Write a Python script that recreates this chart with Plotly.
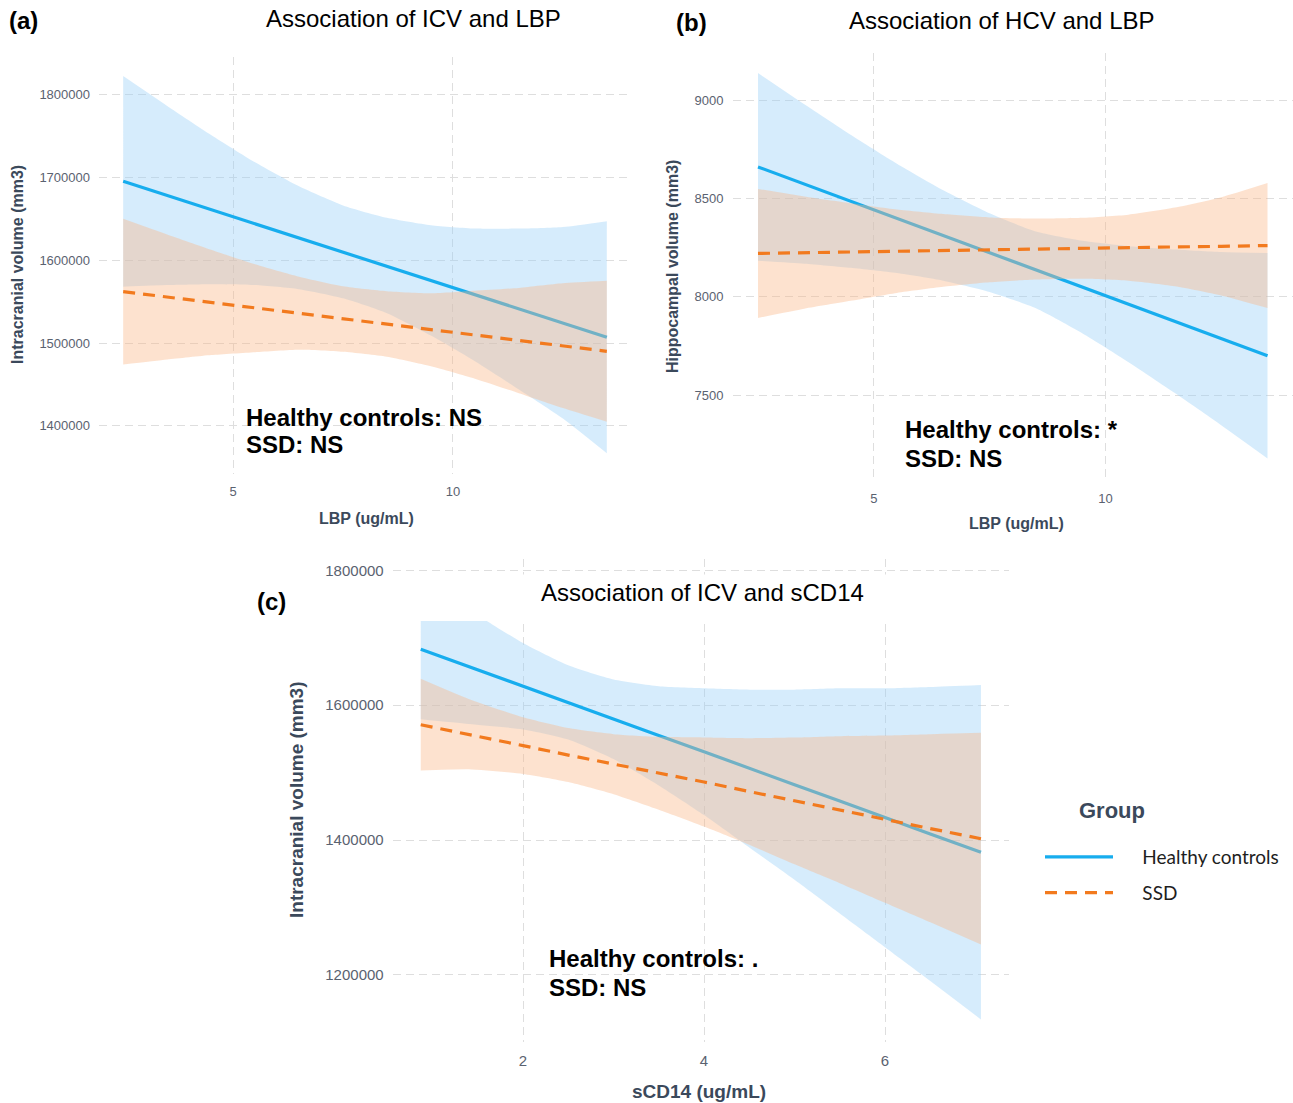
import plotly.graph_objects as go

W, H = 1293, 1103

# ---------------- Panel (a): ICV vs LBP ----------------
a_x = [2.5, 3.5, 4.5, 5.5, 6.5, 7.5, 8.5, 9.5, 10.5, 11.5, 12.5, 13.5]
a_hc_fit = [1695000, 1678000, 1661000, 1644000, 1627000, 1610000, 1593000, 1575000, 1558000, 1541000, 1524000, 1507000]
a_hc_hi = [1822000, 1786000, 1751000, 1718000, 1689000, 1666000, 1651000, 1642000, 1638000, 1638000, 1640000, 1647000]
a_hc_lo = [1568000, 1570000, 1571000, 1570000, 1565000, 1554000, 1536000, 1509000, 1478000, 1444000, 1409000, 1367000]
a_ssd_fit = [1562000, 1555500, 1549000, 1542000, 1536000, 1529000, 1523000, 1516000, 1510000, 1503000, 1497000, 1490000]
a_ssd_hi = [1650000, 1631000, 1612500, 1595000, 1580000, 1568500, 1562500, 1560000, 1563000, 1566500, 1572000, 1575000]
a_ssd_lo = [1474000, 1480000, 1485500, 1489000, 1492000, 1489500, 1483500, 1472000, 1457000, 1439500, 1421500, 1405000]

# ---------------- Panel (b): HCV vs LBP ----------------
b_x = [2.5, 3.5, 4.5, 5.5, 6.5, 7.5, 8.5, 9.5, 10.5, 11.5, 12.5, 13.5]
b_hc_fit = [8660, 8573, 8485, 8398, 8311, 8224, 8136, 8049, 7962, 7875, 7787, 7700]
b_hc_hi = [9137, 8978, 8823, 8676, 8541, 8424, 8331, 8284, 8257, 8240, 8227, 8222]
b_hc_lo = [8183, 8168, 8147, 8120, 8081, 8024, 7941, 7814, 7667, 7510, 7347, 7178]
b_ssd_fit = [8220, 8224, 8227, 8231, 8235, 8238, 8242, 8246, 8249, 8253, 8256, 8260]
b_ssd_hi = [8548, 8509, 8475, 8443, 8420, 8403, 8397, 8401, 8417, 8453, 8506, 8578]
b_ssd_lo = [7892, 7939, 7979, 8019, 8050, 8073, 8087, 8091, 8081, 8053, 8006, 7942]

# ---------------- Panel (c): ICV vs sCD14 ----------------
c_x = [0.87, 1.4, 2.0, 2.5, 3.0, 3.5, 4.0, 4.5, 5.0, 5.5, 6.0, 6.5, 7.06]
c_hc_fit = [1683000, 1657000, 1628000, 1604000, 1579000, 1555000, 1531000, 1506000, 1482000, 1458000, 1433000, 1409000, 1382000]
c_hc_hi = [1787000, 1742000, 1692000, 1659000, 1638000, 1628000, 1625000, 1623000, 1623000, 1625000, 1625000, 1627000, 1630000]
c_hc_lo = [1579000, 1572000, 1564000, 1549000, 1520000, 1481000, 1437000, 1389000, 1341000, 1291000, 1241000, 1191000, 1134000]
c_ssd_fit = [1571000, 1557000, 1540000, 1526000, 1513000, 1499000, 1486000, 1472000, 1458000, 1445000, 1431000, 1417000, 1402000]
c_ssd_hi = [1639000, 1609000, 1582000, 1566000, 1557000, 1553000, 1552000, 1551000, 1552000, 1554000, 1555000, 1557000, 1559000]
c_ssd_lo = [1503000, 1505000, 1498000, 1486000, 1468000, 1445000, 1420000, 1393000, 1364000, 1336000, 1307000, 1278000, 1245000]

# tick labels
a_xticks = [5, 10]
a_yticks = [1400000, 1500000, 1600000, 1700000, 1800000]
b_xticks = [5, 10]
b_yticks = [7500, 8000, 8500, 9000]
c_xticks = [2, 4, 6]
c_yticks = [1200000, 1400000, 1600000, 1800000]

groups = ["Healthy controls", "SSD"]

# styles
HC_COL = "#17adee"
SSD_COL = "#f27a1e"
HC_FILL = "rgba(152,207,247,0.4)"
SSD_FILL = "rgba(250,182,135,0.4)"
GRID = "#dedede"
TICK_COL = "#5a6270"
TITLE_COL = "#3b495b"
FONT = "Liberation Sans, Arial, sans-serif"
PAD = "\u00a0" * 5

fig = go.Figure()


def add_panel(x, hc_fit, hc_hi, hc_lo, ssd_fit, ssd_hi, ssd_lo, xr, yr, show_legend):
    fig.add_trace(go.Scatter(x=x, y=hc_lo, mode="lines", line=dict(width=0, shape="spline", smoothing=0.6),
                             xaxis=xr, yaxis=yr, showlegend=False, hoverinfo="skip"))
    fig.add_trace(go.Scatter(x=x, y=hc_hi, mode="lines", line=dict(width=0, shape="spline", smoothing=0.6),
                             fill="tonexty", fillcolor=HC_FILL,
                             xaxis=xr, yaxis=yr, showlegend=False, hoverinfo="skip"))
    fig.add_trace(go.Scatter(x=x, y=hc_fit, mode="lines", name=PAD + groups[0], legendgroup="hc",
                             line=dict(color=HC_COL, width=3.2),
                             xaxis=xr, yaxis=yr, showlegend=show_legend))
    fig.add_trace(go.Scatter(x=x, y=ssd_lo, mode="lines", line=dict(width=0, shape="spline", smoothing=0.6),
                             xaxis=xr, yaxis=yr, showlegend=False, hoverinfo="skip"))
    fig.add_trace(go.Scatter(x=x, y=ssd_hi, mode="lines", line=dict(width=0, shape="spline", smoothing=0.6),
                             fill="tonexty", fillcolor=SSD_FILL,
                             xaxis=xr, yaxis=yr, showlegend=False, hoverinfo="skip"))
    fig.add_trace(go.Scatter(x=x, y=ssd_fit, mode="lines", name=PAD + groups[1], legendgroup="ssd",
                             line=dict(color=SSD_COL, width=3.2, dash="12px,8px"),
                             xaxis=xr, yaxis=yr, showlegend=show_legend))


add_panel(a_x, a_hc_fit, a_hc_hi, a_hc_lo, a_ssd_fit, a_ssd_hi, a_ssd_lo, "x", "y", False)
add_panel(b_x, b_hc_fit, b_hc_hi, b_hc_lo, b_ssd_fit, b_ssd_hi, b_ssd_lo, "x2", "y2", False)
add_panel(c_x, c_hc_fit, c_hc_hi, c_hc_lo, c_ssd_fit, c_ssd_hi, c_ssd_lo, "x3", "y3", True)


def px_x(p):
    return p / W


def px_y(p):
    return 1 - p / H


def axis(domain, rng, ticks, size, anchor):
    return dict(domain=domain, range=rng, tickvals=ticks, ticktext=[str(t) for t in ticks],
                showgrid=True, gridcolor=GRID, gridwidth=1, griddash="8px,5px",
                zeroline=False, showline=False, ticks="", anchor=anchor,
                tickfont=dict(size=size, color=TICK_COL, family=FONT),
                ticklabelstandoff=8)


fig.update_layout(
    xaxis=axis([px_x(99), px_x(631)], [1.95, 14.05], a_xticks, 13, "y"),
    yaxis=axis([px_y(474), px_y(57)], [1342000, 1845000], a_yticks, 13, "x"),
    xaxis2=axis([px_x(732.5), 1.0], [1.95, 14.05], b_xticks, 13, "y2"),
    yaxis2=axis([px_y(481.4), px_y(53)], [7061, 9239], b_yticks, 13, "x2"),
    xaxis3=axis([px_x(392.7), px_x(1009)], [0.56, 7.37], c_xticks, 15, "y3"),
    yaxis3=axis([px_y(1042.4), px_y(558.8)], [1100000, 1817000], c_yticks, 15, "x3"),
)

# white box covering the top strip of panel (c) behind its title (as in the composite)
fig.add_shape(type="rect", xref="paper", yref="paper", x0=px_x(388), x1=px_x(1012),
              y0=px_y(621), y1=px_y(574.5), fillcolor="white", line=dict(width=0), layer="above")

ann = []


def text(x, y, s, size, color="black", bold=False, xanchor="center", angle=0, family=FONT):
    ann.append(dict(x=px_x(x), y=px_y(y), xref="paper", yref="paper", text=("<b>%s</b>" % s) if bold else s,
                    showarrow=False, xanchor=xanchor, yanchor="middle", textangle=angle,
                    font=dict(size=size, color=color, family=family)))


# panel labels and titles
text(23, 20, "(a)", 24, bold=True)
text(413, 18, "Association of ICV and LBP", 24)
text(691, 22, "(b)", 24, bold=True)
text(1002, 20, "Association of HCV and LBP", 24)
text(271, 601, "(c)", 24, bold=True)
text(702, 592, "Association of ICV and sCD14", 24)

# axis titles
text(17, 265, "Intracranial volume (mm3)", 16, TITLE_COL, True, angle=-90)
text(366, 518, "LBP (ug/mL)", 16, TITLE_COL, True)
text(672, 267, "Hippocampal volume (mm3)", 16, TITLE_COL, True, angle=-90)
text(1017, 523, "LBP (ug/mL)", 16, TITLE_COL, True)
text(296, 800, "Intracranial volume (mm3)", 19, TITLE_COL, True, angle=-90)
text(699, 1091, "sCD14 (ug/mL)", 19, TITLE_COL, True)

# significance notes
text(244, 417, "Healthy controls: NS", 24, bold=True, xanchor="left")
text(244, 445, "SSD: NS", 24, bold=True, xanchor="left")
text(903, 430, "Healthy controls: *", 24, bold=True, xanchor="left")
text(903, 458, "SSD: NS", 24, bold=True, xanchor="left")
text(547, 959, "Healthy controls: .", 24, bold=True, xanchor="left")
text(547, 987, "SSD: NS", 24, bold=True, xanchor="left")

# legend title
text(1112, 810, "Group", 22, TITLE_COL, True)

fig.update_layout(
    width=W, height=H,
    margin=dict(l=0, r=0, t=0, b=0),
    paper_bgcolor="white", plot_bgcolor="white",
    font=dict(family=FONT),
    annotations=ann,
    showlegend=True,
    legend=dict(
        x=px_x(1040), y=px_y(838), xanchor="left", yanchor="top",
        font=dict(size=19, color="#1e1e1e", family="Lato, Liberation Sans, sans-serif"),
        itemwidth=68, tracegroupgap=8, bgcolor="rgba(0,0,0,0)",
    ),
)

fig.write_html("out.html", config={"displayModeBar": False},
               post_script="document.body.style.margin='0px';")
